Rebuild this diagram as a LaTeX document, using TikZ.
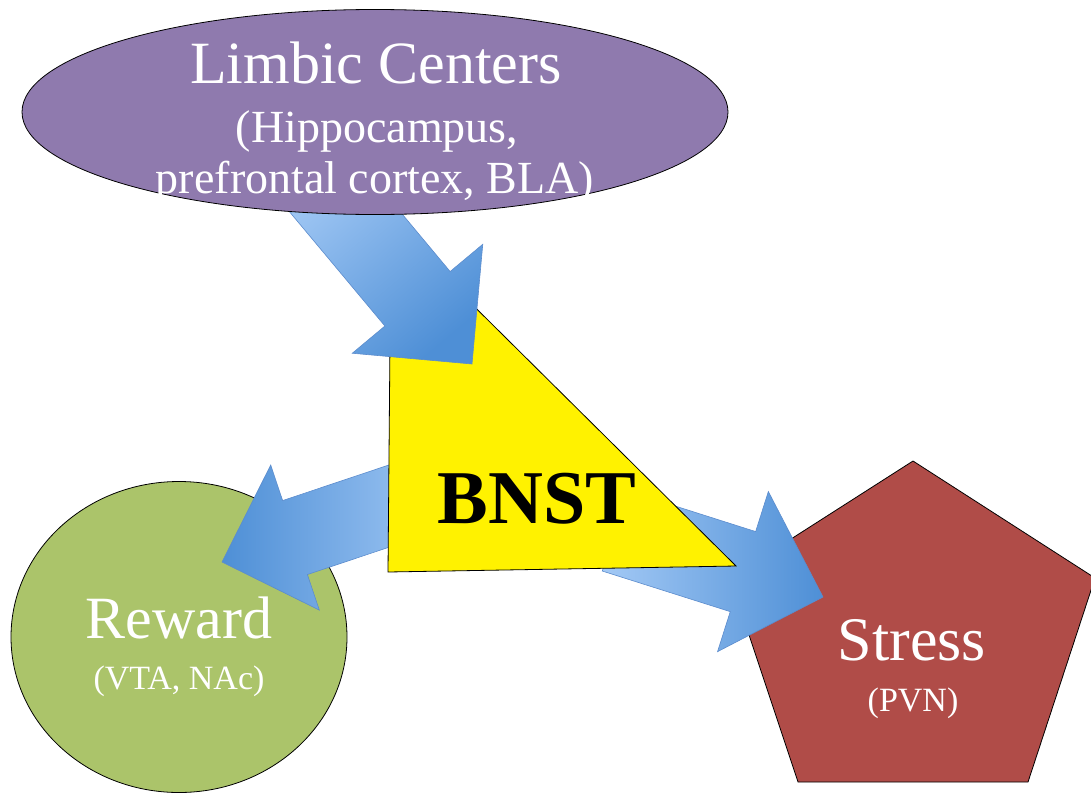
\documentclass[tikz,border=0pt]{standalone}
\usepackage{fontspec}
\setmainfont{Liberation Serif}
\usetikzlibrary{shapes,calc,positioning}

\definecolor{limbicpurple}{RGB}{143,122,174}
\definecolor{rewardgreen}{RGB}{171,196,106}
\definecolor{stressred}{RGB}{176,76,72}
\definecolor{arrowlight}{RGB}{163,201,245}
\definecolor{arrowdark}{RGB}{78,143,214}
\definecolor{arrowedge}{RGB}{92,140,205}

% block arrow: tail, tip, half shaft, half head, head length, shading
\newcommand{\fatarrow}[6]{%
  \coordinate (hb) at ($(#2)!#5!(#1)$);
  \shadedraw[arrowbody,#6] ($(#1)!#3!90:(#2)$) -- ($(hb)!#3!90:(#2)$)
    -- ($(hb)!#4!90:(#2)$) -- (#2) -- ($(hb)!#4!-90:(#2)$)
    -- ($(hb)!#3!-90:(#2)$) -- ($(#1)!#3!-90:(#2)$) -- cycle;
}

\begin{document}
\begin{tikzpicture}[x = 1pt, y = -1pt,
  outlined/.style = {draw = black, line width = .8pt},
  arrowbody/.style = {draw = arrowedge, line width = .6pt},
  bigtext/.style = {text = white, anchor = base, inner sep = 0pt, font = \fontsize{60}{62}\selectfont},
  subtext/.style = {text = white, anchor = base, inner sep = 0pt, font = \fontsize{34}{36}\selectfont}]
\useasboundingbox (0,0) rectangle (1091,795);

\node[outlined, ellipse, fill = rewardgreen, minimum width = 336pt, minimum height = 311pt] (reward) at (179,637) {};
\draw[outlined, fill = stressred] (913,461) coordinate (p1) -- (1095,578) coordinate (p2)
  -- (1028,782) coordinate (p3) -- (798,782) coordinate (p4) -- (730,578) coordinate (p5) -- cycle;

\coordinate (rewardtail) at (440,489);
\coordinate (rewardtip) at (222,562);
\coordinate (stresstail) at (615,531);
\coordinate (stresstip) at (823,597);
\coordinate (limbictail) at (315,176);
\coordinate (limbictip) at (472,364);

\fatarrow{rewardtail}{rewardtip}{39pt}{76.5pt}{77pt}{left color = arrowdark, right color = arrowlight}
\fatarrow{stresstail}{stresstip}{42pt}{84pt}{84pt}{left color = arrowlight, right color = arrowdark}

\draw[outlined, fill = yellow] (391,224) coordinate (t1) -- (388,572) coordinate (t2) -- (736,566) coordinate (t3) -- cycle;

\fatarrow{limbictail}{limbictip}{42.5pt}{85pt}{85pt}{top color = arrowlight, bottom color = arrowdark, shading angle = 40}

\node[outlined, ellipse, fill = limbicpurple, minimum width = 706pt, minimum height = 205pt] (limbic) at (375,112) {};

\node[bigtext] (limbictitle) at (376,83) {Limbic Centers};
\node[subtext, font = \fontsize{46}{48}\selectfont] (limbicsub) at (377,142) {(Hippocampus,};
\node[subtext, font = \fontsize{46}{48}\selectfont] (limbicsubb) at (375,193) {prefrontal cortex, BLA)};
\node[anchor = base, inner sep = 0pt, font = \fontsize{76}{80}\selectfont\bfseries] (bnst) at (537,523) {BNST};
\node[bigtext] (rewardtitle) at (179,638) {Reward};
\node[subtext] (rewardsub) at (179,689) {(VTA, NAc)};
\node[bigtext, font = \fontsize{62}{64}\selectfont] (stresstitle) at (912,660) {Stress};
\node[subtext] (stresssub) at (913,711) {(PVN)};
\end{tikzpicture}
\end{document}
